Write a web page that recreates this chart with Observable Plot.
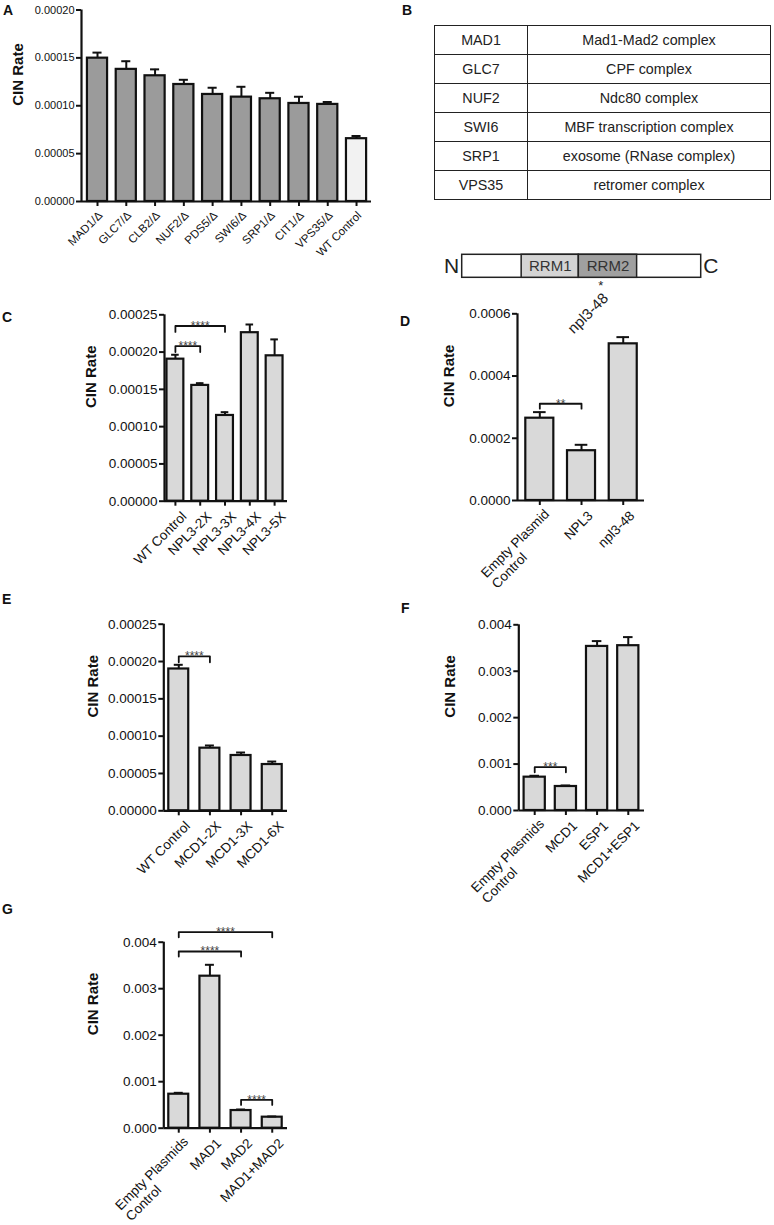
<!DOCTYPE html>
<html><head><meta charset="utf-8">
<script src="https://cdn.jsdelivr.net/npm/d3@7"></script>
<script src="https://cdn.jsdelivr.net/npm/@observablehq/plot@0.6"></script>
<style>
body{margin:0;background:#fff;font-family:"Liberation Sans",Arial,Helvetica,sans-serif;}
#fig{position:relative;width:774px;height:1225px;overflow:hidden;background:#fff;}
.letter{position:absolute;font-weight:bold;font-size:14px;line-height:1;color:#111;}
table.cx{position:absolute;border-collapse:collapse;font-size:14.3px;color:#222;table-layout:fixed;}
table.cx td{border:1.5px solid #222;text-align:center;padding:0;}
</style></head><body><div id="fig"></div>
<script>
// ---------- DATA ----------
// Panel A
const aLabels = ["MAD1/Δ","GLC7/Δ","CLB2/Δ","NUF2/Δ","PDS5/Δ","SWI6/Δ","SRP1/Δ","CIT1/Δ","VPS35/Δ","WT Control"];
const aRates  = [0.0001497,0.000138,0.0001313,0.0001222,0.0001118,0.000109,0.0001073,0.0001024,0.0001014,0.0000656];
const aSem    = [0.0000058,0.0000085,0.0000067,0.0000049,0.000007,0.0000108,0.0000062,0.000007,0.0000025,0.0000028];
// Panel B
const bGenes = ["MAD1","GLC7","NUF2","SWI6","SRP1","VPS35"];
const bComplexes = ["Mad1-Mad2 complex","CPF complex","Ndc80 complex","MBF transcription complex","exosome (RNase complex)","retromer complex"];
// Npl3 protein diagram
const proteinLength = 414;
const domainNames = ["RRM1","RRM2"];
const domainStarts = [103,202];
const domainEnds = [202,303];
const mutationSite = 240;
const mutationLabel = "npl3-48";
// Panel C
const cLabels = ["WT Control","NPL3-2X","NPL3-3X","NPL3-4X","NPL3-5X"];
const cRates  = [0.0001905,0.0001553,0.000115,0.000226,0.000195];
const cSem    = [0.0000059,0.000003,0.0000044,0.000011,0.000022];
const cBrackets = [{from:0,to:1,y:0.000208,label:"****"},{from:0,to:2,y:0.000235,label:"****"}];
// Panel D
const dLabels = ["Empty Plasmid\nControl","NPL3","npl3-48"];
const dRates  = [0.0002645,0.00016,0.0005035];
const dSem    = [0.0000195,0.000019,0.0000215];
const dBrackets = [{from:0,to:1,y:0.000311,label:"**"}];
// Panel E
const eLabels = ["WT Control","MCD1-2X","MCD1-3X","MCD1-6X"];
const eRates  = [0.00019,0.0000839,0.0000741,0.000062];
const eSem    = [0.0000056,0.0000036,0.000004,0.000004];
const eBrackets = [{from:0,to:1,y:0.000207,label:"****"}];
// Panel F
const fLabels = ["Empty Plasmids\nControl","MCD1","ESP1","MCD1+ESP1"];
const fRates  = [0.000718,0.000517,0.003534,0.00355];
const fSem    = [0.00003,0.000022,0.000115,0.000185];
const fBrackets = [{from:0,to:1,y:0.000934,label:"***"}];
// Panel G
const gLabels = ["Empty Plasmids\nControl","MAD1","MAD2","MAD1+MAD2"];
const gRates  = [0.000731,0.003269,0.00038,0.000237];
const gSem    = [0.00003,0.000245,0.000022,0.000015];
const gBrackets = [{from:0,to:3,y:0.004215,label:"****"},{from:0,to:2,y:0.0038,label:"****"},{from:2,to:3,y:0.000611,label:"****"}];

// ---------- LAYOUT ----------
const FONT = "'Liberation Sans', Arial, Helvetica, sans-serif";
const fig = document.getElementById("fig");
const INK = "#111";

function fixMultiline(svg){
  svg.querySelectorAll("text").forEach(t=>{
    const ts = t.querySelectorAll("tspan");
    if (ts.length > 1){
      const w = ts[0].getComputedTextLength();
      t.setAttribute("text-anchor","start");
      ts.forEach((s,k)=>{ s.setAttribute("x", -w); s.setAttribute("dy", k===0 ? "0.32em" : "1.12em"); });
    }
  });
}
function mount(svg, left, top){
  svg.style.position = "absolute";
  svg.style.left = left + "px";
  svg.style.top = top + "px";
  fig.appendChild(svg);
  fixMultiline(svg);
}
function letter(ch, left, top){
  const d = document.createElement("div");
  d.className = "letter"; d.textContent = ch;
  d.style.left = left + "px"; d.style.top = top + "px";
  fig.appendChild(d);
}

function barPanel(cfg, labels, rates, sems, brackets, fillFor){
  const data = labels.map((l,i)=>({i, label:l, v:rates[i], e:rates[i]+sems[i], fill: fillFor(l)}));
  const yTicks = d3.range(0, cfg.yMax + cfg.yStep/2, cfg.yStep);
  const hw = cfg.barHalf, cw = hw*0.45;
  const bpts = [];
  brackets.forEach((b,k)=>{
    bpts.push({k, x:b.from, y:b.y - cfg.drop},{k, x:b.from, y:b.y},{k, x:b.to, y:b.y},{k, x:b.to, y:b.y - cfg.drop});
  });
  const svg = Plot.plot({
    width: cfg.width, height: cfg.height,
    marginLeft: cfg.mL, marginRight: cfg.mR, marginTop: cfg.mT, marginBottom: cfg.mB,
    x: {domain: cfg.xDom},
    y: {domain: [0, cfg.yMax]},
    color: {type: "identity"},
    style: {fontFamily: FONT, fontSize: cfg.tickFont + "px", color: INK, background: "transparent", overflow: "visible"},
    marks: [
      Plot.rect(data, {x1: d=>d.i-hw, x2: d=>d.i+hw, y1: 0, y2: "v", fill: "fill", stroke: INK, strokeWidth: 2.2}),
      Plot.ruleX(data, {x: "i", y1: "v", y2: "e", stroke: INK, strokeWidth: 2}),
      Plot.ruleY(data, {y: "e", x1: d=>d.i-cw, x2: d=>d.i+cw, stroke: INK, strokeWidth: 2}),
      Plot.line(bpts, {x: "x", y: "y", z: "k", stroke: INK, strokeWidth: 1.8}),
      Plot.text(brackets, {x: d=>(d.from+d.to)/2, y: "y", text: "label", fontSize: 12, fill: "#444", lineAnchor: "middle"}),
      Plot.ruleY([0], {stroke: INK, strokeWidth: 2.2}),
      Plot.ruleX([cfg.xDom[0]], {stroke: INK, strokeWidth: 2.2}),
      Plot.axisY({ticks: yTicks, tickFormat: d3.format(cfg.fmt), tickSize: 5, tickPadding: 2, strokeWidth: 2, fontSize: cfg.tickFont, label: null}),
      Plot.axisX({ticks: data.map(d=>d.i), tickSize: 5, strokeWidth: 2, tickFormat: () => "", label: null}),
      Plot.text(data, {x: "i", frameAnchor: "bottom", text: "label", rotate: -45, textAnchor: "end", lineAnchor: "middle", dx: cfg.ldx, dy: cfg.ldy, fontSize: cfg.labelFont, fill: INK}),
      Plot.text(["CIN Rate"], {frameAnchor: "left", rotate: -90, dx: cfg.cinDx, fontWeight: "bold", fontSize: 15, fill: INK})
    ]
  });
  mount(svg, cfg.left, cfg.top);
}

const lightFill = "#d9d9d9";
// Panel A
barPanel({left:0, top:0, width:385, height:300, mL:81, mR:14, mT:9.5, mB:99, xDom:[-0.556, 9.52],
          yMax:0.0002, yStep:0.00005, fmt:".5f", tickFont:11, labelFont:11.5, barHalf:0.35, drop:0,
          ldx:3, ldy:12, cinDx:-63.5},
  aLabels, aRates, aSem, [], l => l === "WT Control" ? "#f2f2f2" : "#9b9b9b");
// Panel C
barPanel({left:0, top:300, width:300, height:330, mL:164, mR:13, mT:14.3, mB:129.3, xDom:[-0.44, 4.52],
          yMax:0.00025, yStep:0.00005, fmt:".5f", tickFont:13.5, labelFont:13.5, barHalf:0.34, drop:0.000008,
          ldx:9, ldy:13, cinDx:-73},
  cLabels, cRates, cSem, cBrackets, () => lightFill);
// Panel D
barPanel({left:400, top:300, width:374, height:330, mL:117, mR:130, mT:13.3, mB:130, xDom:[-0.535, 2.51],
          yMax:0.0006, yStep:0.0002, fmt:".4f", tickFont:13.5, labelFont:13.5, barHalf:0.336, drop:0.000016,
          ldx:9, ldy:13, cinDx:-68},
  dLabels, dRates, dSem, dBrackets, () => lightFill);
// Panel E
barPanel({left:0, top:610, width:300, height:300, mL:163.3, mR:13, mT:13.7, mB:99.7, xDom:[-0.48, 3.49],
          yMax:0.00025, yStep:0.00005, fmt:".5f", tickFont:13.5, labelFont:13.5, barHalf:0.32, drop:0.000008,
          ldx:9, ldy:13, cinDx:-71},
  eLabels, eRates, eSem, eBrackets, () => lightFill);
// Panel F
barPanel({left:400, top:610, width:374, height:300, mL:118.3, mR:130, mT:14.3, mB:100, xDom:[-0.51, 3.52],
          yMax:0.004, yStep:0.001, fmt:".3f", tickFont:13.5, labelFont:13.5, barHalf:0.34, drop:0.00011,
          ldx:9, ldy:13, cinDx:-69},
  fLabels, fRates, fSem, fBrackets, () => lightFill);
// Panel G
barPanel({left:0, top:920, width:300, height:305, mL:163.3, mR:13, mT:21.7, mB:97.3, xDom:[-0.48, 3.49],
          yMax:0.004, yStep:0.001, fmt:".3f", tickFont:13.5, labelFont:13.5, barHalf:0.32, drop:0.00011,
          ldx:9, ldy:13, cinDx:-71},
  gLabels, gRates, gSem, gBrackets, () => lightFill);

// Panel B table
const table = document.createElement("table");
table.className = "cx";
table.style.left = "434px"; table.style.top = "25px"; table.style.width = "337px"; table.style.height = "175px";
const cg = document.createElement("colgroup");
cg.innerHTML = '<col style="width:93px"><col>';
table.appendChild(cg);
bGenes.forEach((g,i)=>{
  const tr = document.createElement("tr");
  const a = document.createElement("td"); a.textContent = g;
  const b = document.createElement("td"); b.textContent = bComplexes[i];
  tr.appendChild(a); tr.appendChild(b); table.appendChild(tr);
});
fig.appendChild(table);

// Npl3 protein diagram
const domains = domainNames.map((n,i)=>({name:n, start:domainStarts[i], end:domainEnds[i]}));
const prot = Plot.plot({
  width: 300, height: 100, marginLeft: 21.7, marginRight: 39.3, marginTop: 9.3, marginBottom: 67.7,
  x: {domain: [0, proteinLength], axis: null},
  y: {domain: [0, 1], axis: null},
  color: {type: "identity"},
  style: {fontFamily: FONT, color: INK, background: "transparent", overflow: "visible"},
  marks: [
    Plot.rect([{s:0, e:proteinLength}], {x1: "s", x2: "e", y1: 0, y2: 1, fill: "#fff", stroke: "#222", strokeWidth: 1.5}),
    Plot.rect(domains, {x1: "start", x2: "end", y1: 0, y2: 1, fill: d => d.name === "RRM1" ? "#d4d4d4" : "#a0a0a0", stroke: "#222", strokeWidth: 1.5}),
    Plot.text(domains, {x: d => (d.start + d.end)/2, y: 0.5, text: "name", fontSize: 15, fill: "#333"}),
    Plot.text(["N"], {x: 0, y: 0.5, textAnchor: "end", dx: -3, fontSize: 21, fill: "#222"}),
    Plot.text(["C"], {x: proteinLength, y: 0.5, textAnchor: "start", dx: 2, fontSize: 21, fill: "#222"}),
    Plot.text(["*"], {x: mutationSite, y: 0, dy: 8, fontSize: 13, fill: "#222"}),
    Plot.text([mutationLabel], {x: mutationSite, y: 0, rotate: -45, textAnchor: "end", dx: 5, dy: 18, fontSize: 15, fill: "#222"})
  ]
});
mount(prot, 440, 245);

// Panel letters
letter("A", 3, 2.5);
letter("B", 402, 2.5);
letter("C", 2, 310);
letter("D", 400, 314);
letter("E", 2, 592);
letter("F", 401, 601);
letter("G", 2, 902);
</script></body></html>
